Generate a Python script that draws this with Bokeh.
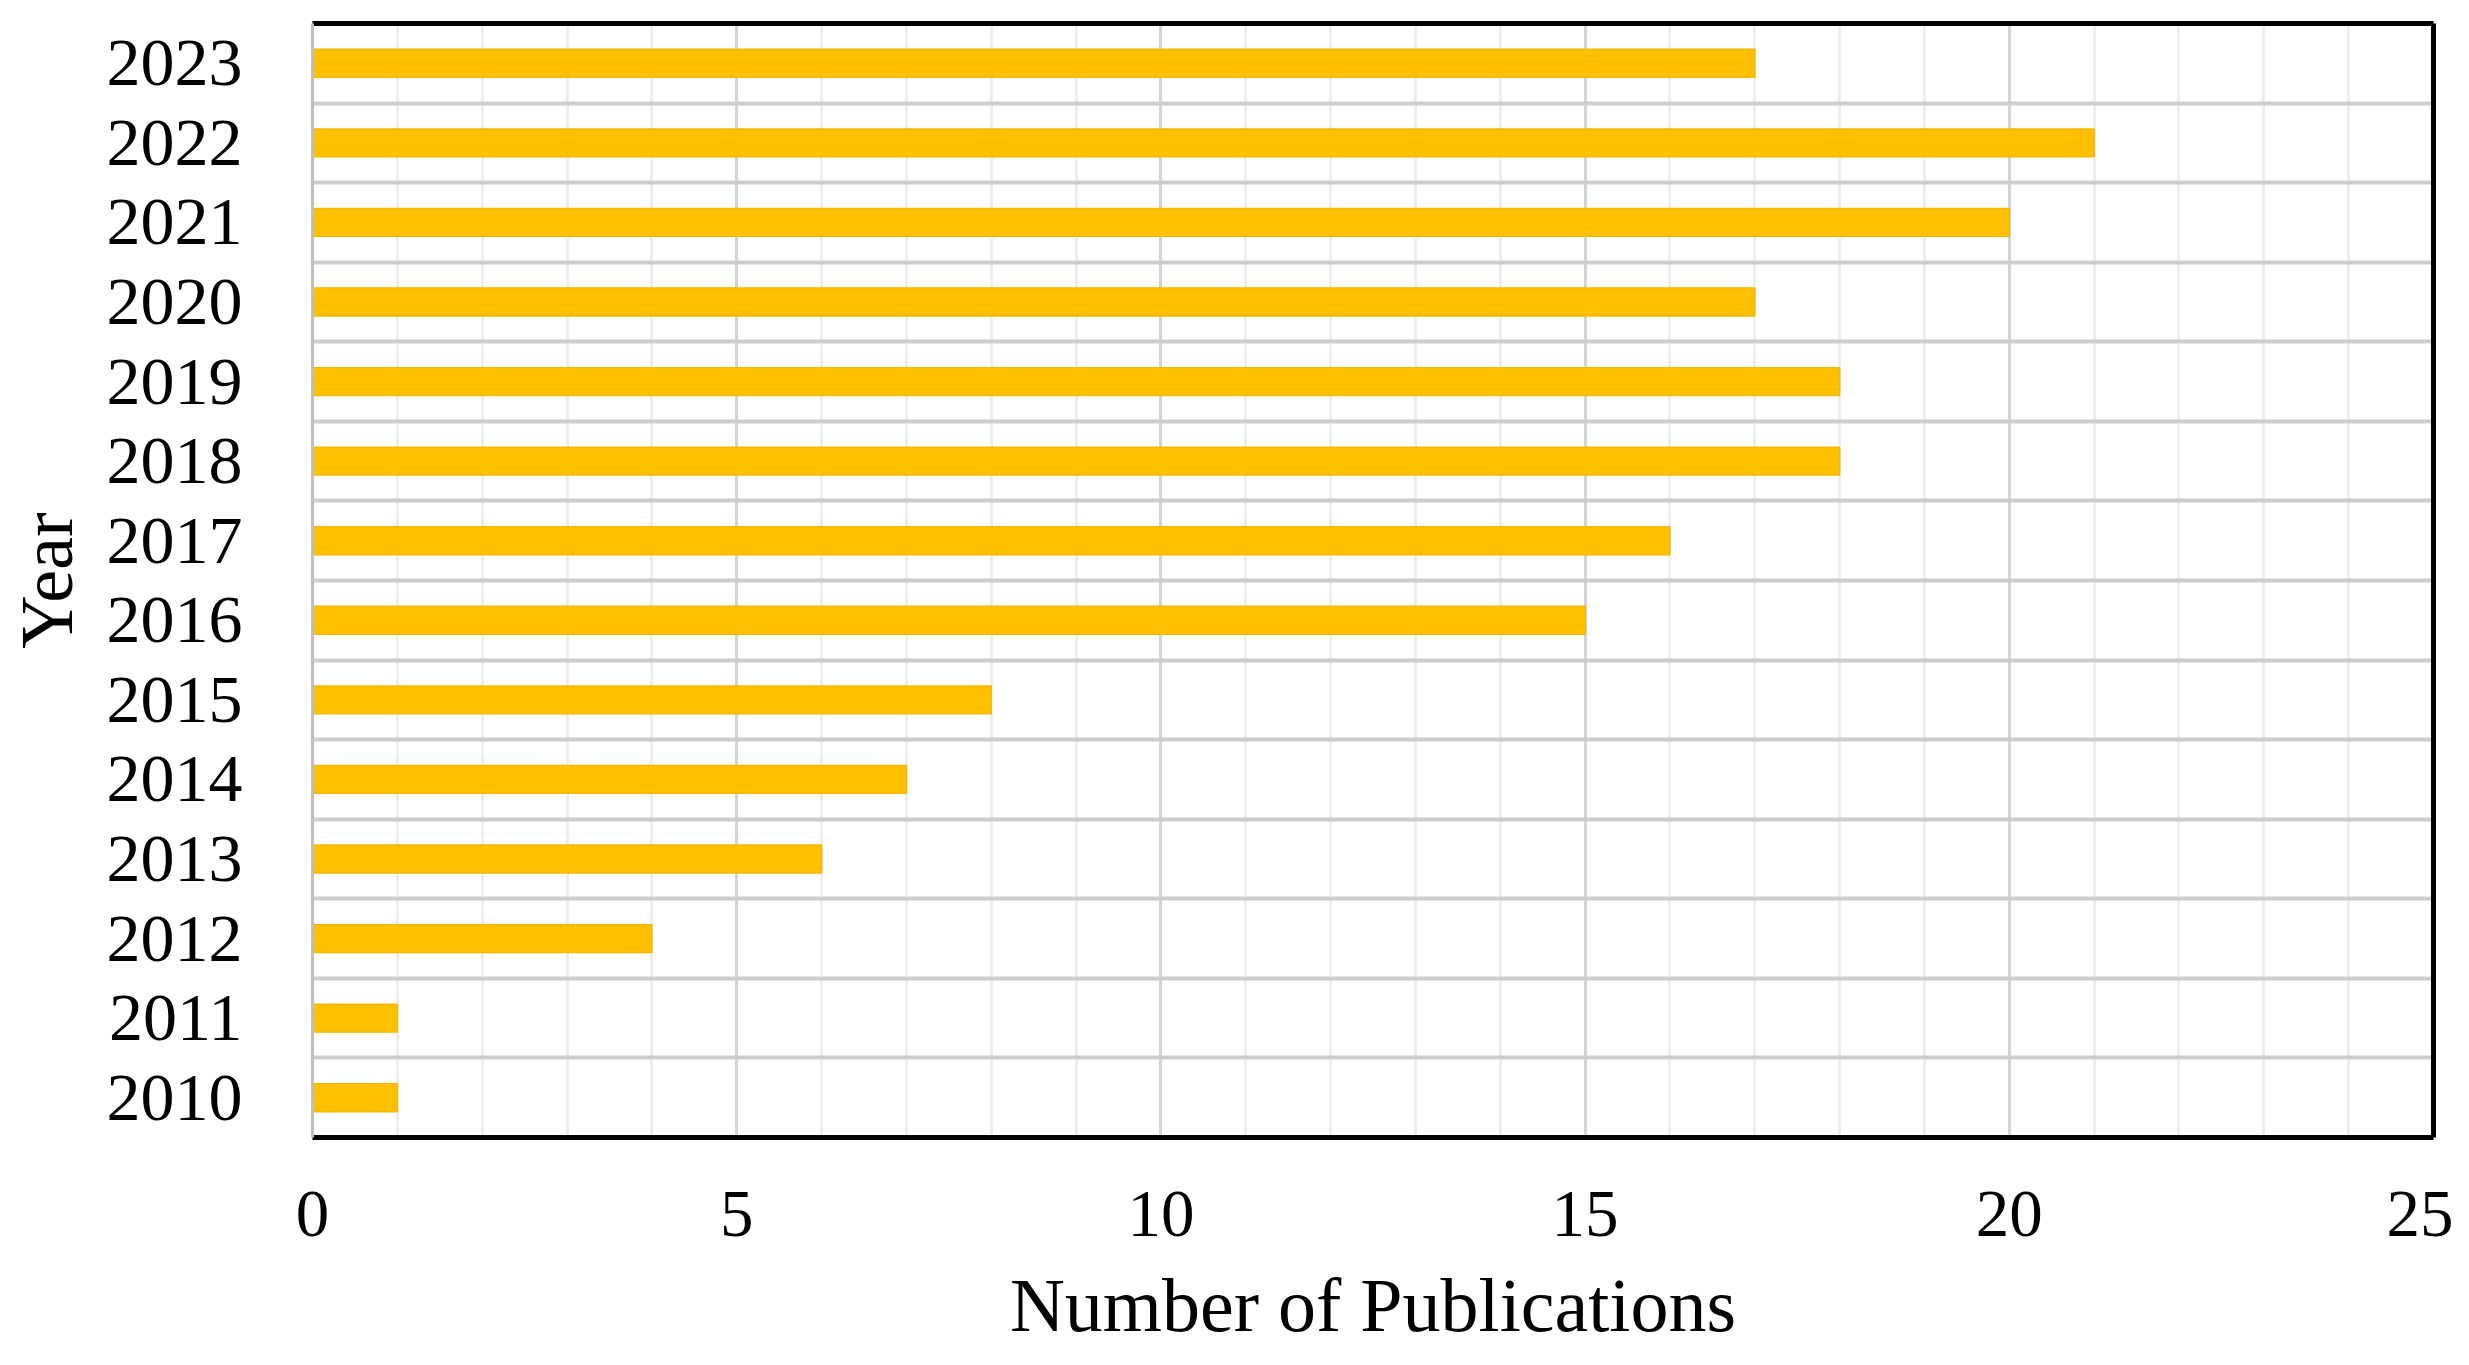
from bokeh.plotting import figure
from bokeh.models import FixedTicker, LinearAxis, Range1d
from bokeh.embed import file_html
from bokeh.resources import INLINE

years = ["2010", "2011", "2012", "2013", "2014", "2015", "2016",
         "2017", "2018", "2019", "2020", "2021", "2022", "2023"]
publications = [1, 1, 4, 6, 7, 8, 15, 16, 18, 18, 17, 20, 21, 17]
x_ticks = [0, 5, 10, 15, 20, 25]

positions = list(range(len(years)))
FONT = "Liberation Serif"

p = figure(width=2453, height=1349, output_backend="svg", toolbar_location=None,
           x_range=Range1d(0, 25), y_range=Range1d(-0.5, len(years) - 0.5),
           min_border_left=312, min_border_right=20, min_border_top=23, min_border_bottom=150)

p.background_fill_color = "white"
p.border_fill_color = "white"
p.outline_line_color = None

# vertical grid (major every 5, minor every 1)
p.xgrid.ticker = FixedTicker(ticks=x_ticks, minor_ticks=list(range(0, 26)))
p.xgrid.grid_line_color = "#D4D4D4"
p.xgrid.grid_line_width = 3
p.xgrid.minor_grid_line_color = "#EDEDED"
p.xgrid.minor_grid_line_width = 3

# horizontal grid at category boundaries
p.ygrid.ticker = FixedTicker(ticks=[i + 0.5 for i in positions[:-1]])
p.ygrid.grid_line_color = "#CDCDCD"
p.ygrid.grid_line_width = 4

p.hbar(y=positions, right=publications, left=0, height=0.35,
       fill_color="#FFC000", line_color="#F5B800", line_width=1.5)

# x axis
xa = p.xaxis[0]
xa.ticker = FixedTicker(ticks=x_ticks)
xa.axis_label = "Number of Publications"
xa.axis_label_text_font = FONT
xa.axis_label_text_font_style = "normal"
xa.axis_label_text_font_size = "76px"
xa.axis_label_text_color = "black"
xa.axis_label_standoff = 24
xa.major_label_text_font = FONT
xa.major_label_text_font_size = "67px"
xa.major_label_text_color = "black"
xa.major_label_standoff = 48
xa.major_tick_line_color = None
xa.minor_tick_line_color = None
xa.axis_line_color = "black"
xa.axis_line_width = 5

# y axis
ya = p.yaxis[0]
ya.ticker = FixedTicker(ticks=positions)
ya.major_label_overrides = {i: y for i, y in zip(positions, years)}
ya.axis_label = "Year"
ya.axis_label_text_font = FONT
ya.axis_label_text_font_style = "normal"
ya.axis_label_text_font_size = "74px"
ya.axis_label_text_color = "black"
ya.axis_label_standoff = 16
ya.major_label_text_font = FONT
ya.major_label_text_font_size = "68px"
ya.major_label_text_color = "black"
ya.major_label_standoff = 64
ya.major_tick_line_color = None
ya.minor_tick_line_color = None
ya.axis_line_color = "#BFBFBF"
ya.axis_line_width = 3

# frame edges top and right
for loc in ("above", "right"):
    ax = LinearAxis(ticker=FixedTicker(ticks=[]))
    ax.axis_line_color = "black"
    ax.axis_line_width = 5
    ax.major_tick_line_color = None
    ax.minor_tick_line_color = None
    ax.major_label_text_font_size = "0px"
    ax.major_label_standoff = 0
    p.add_layout(ax, loc)

open("out.html", "w").write(file_html(p, INLINE))
